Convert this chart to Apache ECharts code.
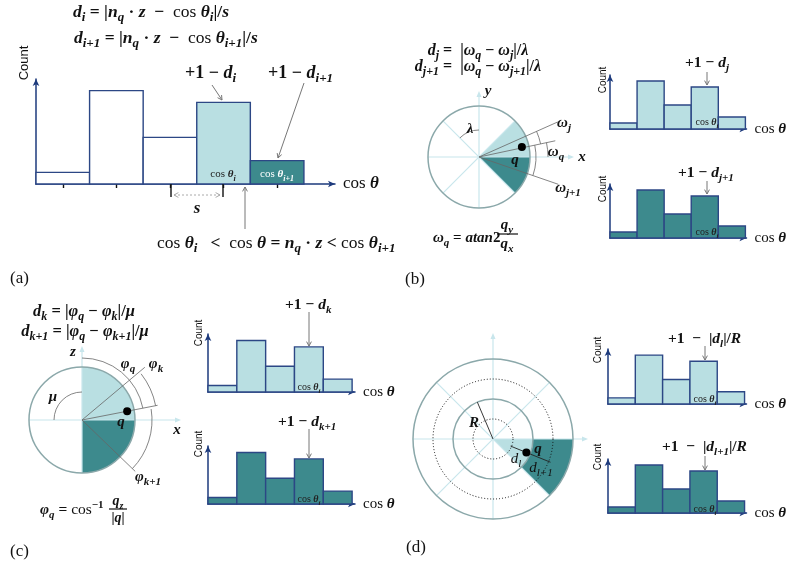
<!DOCTYPE html>
<html>
<head>
<meta charset="utf-8">
<script src="https://cdn.jsdelivr.net/npm/echarts@6/dist/echarts.min.js"></script>
<style>html,body{margin:0;padding:0;background:#fff}#main{width:787px;height:572px}</style>
</head>
<body>
<div id="main"></div>
<script>
// histogram data (same 5 bins everywhere)
var bins = [0, 1, 2, 3, 4];
var counts = [1, 8, 4, 7, 2];
var countMax = 9;
var binTicks = [0.5, 1.5, 2.5, 3.5, 4.5];
var fillsA = ['white', 'white', 'white', 'light', 'dark'];
var fillsLight = ['light', 'light', 'light', 'light', 'light'];
var fillsDark = ['dark', 'dark', 'dark', 'dark', 'dark'];

var COLORS = { white: '#ffffff', light: '#b9dfe2', dark: '#3d8a8d' };
var AXIS = '#1d3a7c';
var EDGE = '#2c4785';
var RIM = '#8ba8aa';
var PALE = '#c8e6ec';
var INK = '#111';
var SERIF = 'Liberation Serif';

function richSet(fs, color) {
  var lh = fs + 6, sf = Math.round(fs * 0.74);
  return {
    v: { fontFamily: SERIF, fontSize: fs, fontStyle: 'italic', fontWeight: 'bold', fill: color, color: color, lineHeight: lh },
    b: { fontFamily: SERIF, fontSize: fs, fontWeight: 'bold', fill: color, color: color, lineHeight: lh },
    r: { fontFamily: SERIF, fontSize: fs, fill: color, color: color, lineHeight: lh },
    n: { fontFamily: SERIF, fontSize: fs, fontStyle: 'italic', fill: color, color: color, lineHeight: lh },
    s: { fontFamily: SERIF, fontSize: sf, fontStyle: 'italic', fontWeight: 'bold', fill: color, color: color, verticalAlign: 'bottom', lineHeight: sf + 2 },
    ns: { fontFamily: SERIF, fontSize: sf, fontStyle: 'italic', fill: color, color: color, verticalAlign: 'bottom', lineHeight: sf + 2 },
    p: { fontFamily: SERIF, fontSize: sf, fontWeight: 'bold', fill: color, color: color, verticalAlign: 'top', lineHeight: sf + 2 }
  };
}

function txt(x, y, text, fs, align, color) {
  return { type: 'text', x: x, y: y, z: 100, silent: true,
    style: { text: text, rich: richSet(fs, color || INK), align: align || 'left', verticalAlign: 'middle' } };
}
function plain(x, y, text, fs, family, rot) {
  return { type: 'text', x: x, y: y, z: 100, silent: true, rotation: rot || 0,
    style: { text: text, fontFamily: family, fontSize: fs, fill: INK, align: rot ? 'center' : 'left', verticalAlign: 'middle' } };
}
function line(x1, y1, x2, y2, color, w, dash) {
  return { type: 'line', z: 100, silent: true, shape: { x1: x1, y1: y1, x2: x2, y2: y2 },
    style: { stroke: color, lineWidth: w || 1, lineDash: dash || null } };
}
function chevron(x, y, ang, color) {
  var L = 5, h = 0.5;
  return { type: 'polyline', z: 100, silent: true,
    shape: { points: [[x - L * Math.cos(ang - h), y - L * Math.sin(ang - h)], [x, y], [x - L * Math.cos(ang + h), y - L * Math.sin(ang + h)]] },
    style: { stroke: color, fill: null, lineWidth: 1 } };
}
function arrow(x1, y1, x2, y2, color, dash, both) {
  var a = Math.atan2(y2 - y1, x2 - x1);
  var out = [line(x1, y1, x2, y2, color, 1, dash), chevron(x2, y2, a, color)];
  if (both) out.push(chevron(x1, y1, a + Math.PI, color));
  return out;
}
function head(x, y, ang, color) {
  var L = 6, W = 2.5, c = Math.cos(ang), s = Math.sin(ang);
  return { type: 'polygon', z: 100, silent: true,
    shape: { points: [[x, y], [x - L * c + W * s, y - L * s - W * c], [x - L * c - W * s, y - L * s + W * c]] },
    style: { fill: color } };
}
function pt(c, r, deg) {
  var a = deg * Math.PI / 180;
  return [c[0] + r * Math.cos(a), c[1] - r * Math.sin(a)];
}
function ray(c, r0, r1, deg, color, w, dash) {
  var p = pt(c, r0, deg), q = pt(c, r1, deg);
  return line(p[0], p[1], q[0], q[1], color, w, dash);
}
function sector(c, r0, r, a0, a1, fill) {
  return { type: 'sector', z: 99, silent: true,
    shape: { cx: c[0], cy: c[1], r0: r0, r: r, startAngle: -a1 * Math.PI / 180, endAngle: -a0 * Math.PI / 180, clockwise: true },
    style: { fill: fill } };
}
function arc(c, r, a0, a1, color, w) {
  return { type: 'arc', z: 100, silent: true,
    shape: { cx: c[0], cy: c[1], r: r, startAngle: -a1 * Math.PI / 180, endAngle: -a0 * Math.PI / 180, clockwise: true },
    style: { stroke: color, lineWidth: w || 1, fill: null } };
}
function ring(c, r, color, w, dash) {
  return { type: 'circle', z: 100, silent: true, shape: { cx: c[0], cy: c[1], r: r },
    style: { stroke: color, lineWidth: w || 1, fill: null, lineDash: dash || null } };
}
function dot(p) {
  return { type: 'circle', z: 101, silent: true, shape: { cx: p[0], cy: p[1], r: 4 }, style: { fill: '#000' } };
}
function paleAxes(c, r, up, right, diag, downTo) {
  var out = [];
  out.push(line(c[0] - r, c[1], right - 4, c[1], PALE, 1.2));
  out.push(head(right, c[1], 0, PALE));
  out.push(line(c[0], downTo, c[0], up + 4, PALE, 1.2));
  out.push(head(c[0], up, -Math.PI / 2, PALE));
  if (diag) {
    [45, 135].forEach(function (d) {
      var p = pt(c, r, d), q = pt(c, r, d + 180);
      out.push(line(p[0], p[1], q[0], q[1], PALE, 1.2));
    });
  }
  return out;
}

// histogram layouts
var hists = [
  { left: 36, top: 79, width: 299, height: 105, xmax: 5.58, fills: fillsA, ticks: true, fs: 17 },
  { left: 610, top: 75, width: 140, height: 54, xmax: 5.04, fills: fillsLight, fs: 15 },
  { left: 610, top: 184, width: 140, height: 54, xmax: 5.04, fills: fillsDark, fs: 15 },
  { left: 208, top: 334, width: 147, height: 58, xmax: 5.1, fills: fillsLight, fs: 15 },
  { left: 208, top: 446, width: 147, height: 58, xmax: 5.1, fills: fillsDark, fs: 15 },
  { left: 608, top: 349, width: 142, height: 55, xmax: 5.07, fills: fillsLight, fs: 15 },
  { left: 608, top: 459, width: 142, height: 54, xmax: 5.07, fills: fillsDark, fs: 15 }
];

function renderBin(params, api) {
  var x0 = api.value(0);
  var p0 = api.coord([x0, 0]);
  var p1 = api.coord([x0 + 1, api.value(1)]);
  return { type: 'rect',
    shape: { x: p0[0], y: p1[1], width: p1[0] - p0[0], height: p0[1] - p1[1] },
    style: { fill: api.visual('color'), stroke: EDGE, lineWidth: 1.4 } };
}

var grids = [], xAxes = [], yAxes = [], series = [];
hists.forEach(function (h, k) {
  grids.push({ left: h.left, top: h.top, width: h.width, height: h.height });
  xAxes.push({
    type: 'value', gridIndex: k, min: 0, max: h.xmax,
    axisLine: { show: true, onZero: false, symbol: ['none', 'arrow'], symbolSize: [5, 7], lineStyle: { color: AXIS, width: 1.5 } },
    axisTick: { show: !!h.ticks, customValues: binTicks, inside: false, length: 4, lineStyle: { color: INK, width: 1.4 } },
    axisLabel: { show: false }, splitLine: { show: false },
    name: '{r|cos }{v|θ}', nameLocation: 'end', nameGap: 8,
    nameTextStyle: { rich: richSet(h.fs, INK), verticalAlign: 'middle' }
  });
  yAxes.push({
    type: 'value', gridIndex: k, min: 0, max: countMax,
    axisLine: { show: true, onZero: false, symbol: ['none', 'arrow'], symbolSize: [5, 7], lineStyle: { color: AXIS, width: 1.5 } },
    axisTick: { show: false }, axisLabel: { show: false }, splitLine: { show: false }
  });
  series.push({
    type: 'custom', xAxisIndex: k, yAxisIndex: k, renderItem: renderBin, z: 5,
    data: bins.map(function (b, i) {
      return { value: [b, counts[i]], itemStyle: { color: COLORS[h.fills[i]] } };
    })
  });
});

var G = [];
function add(a) { G = G.concat(a); }

// ---- panel (a)
add([
  plain(24, 63, 'Count', 13, 'Liberation Sans', Math.PI / 2),
  txt(73, 12, '{v|d}{s|i}{b| = |}{v|n}{s|q}{b| · }{v|z}{b|  −  }{r|cos }{v|θ}{s|i}{b||/}{v|s}', 17.5),
  txt(74, 38, '{v|d}{s|i+1}{b| = |}{v|n}{s|q}{b| · }{v|z}{b|  −  }{r|cos }{v|θ}{s|i+1}{b||/}{v|s}', 17.5),
  txt(185, 73, '{b|+1 − }{v|d}{s|i}', 18),
  txt(268, 73, '{b|+1 − }{v|d}{s|i+1}', 18),
  txt(223, 174, '{r|cos }{v|θ}{s|i}', 11, 'center', '#222'),
  txt(277, 174, '{r|cos }{v|θ}{s|i+1}', 11, 'center', '#fff'),
  line(171, 184, 171, 197, INK, 1.4),
  line(223, 184, 223, 197, INK, 1.4),
  txt(197, 209, '{v|s}', 17, 'center'),
  txt(157, 243, '{r|cos }{v|θ}{s|i}{b|   <  }{r|cos }{v|θ}{b| = }{v|n}{s|q}{b| · }{v|z}{b| < }{r|cos }{v|θ}{s|i+1}', 17.5),
  plain(10, 279, '(a)', 17, SERIF)
]);
add(arrow(212, 85, 222, 100, '#777'));
add(arrow(304, 83, 278, 158, '#777'));
add(arrow(174, 195, 220, 195, '#aaa', [2, 2], true));
add(arrow(245, 229, 245, 187, '#777'));

// ---- panel (b)
var B = [479, 157], rb = 51;
add(sector(B, 0, rb, 0, 45, COLORS.light));
add(sector(B, 0, rb, -45, 0, COLORS.dark));
add(paleAxes(B, rb, 91, 574, true, B[1] + rb));
add(ring(B, rb, RIM, 1.5));
add([
  ray(B, 0, 86, 24, '#666', 0.8),
  ray(B, 0, 78, 12, '#666', 0.8),
  ray(B, 0, 84, -19, '#666', 0.8),
  arc(B, 57, -19, 12, '#666', 0.8),
  arc(B, 63, 12, 24, '#666', 0.8),
  arc(B, 69, 0, 12, '#666', 0.8),
  arc(B, 27, 90, 135, '#666', 0.8),
  dot(pt(B, 44, 13)),
  txt(478, 51, '{v|d}{s|j}{b| =  |}{v|ω}{s|q}{b| − }{v|ω}{s|j}{b||/}{v|λ}', 16, 'center'),
  txt(478, 67, '{v|d}{s|j+1}{b| =  |}{v|ω}{s|q}{b| − }{v|ω}{s|j+1}{b||/}{v|λ}', 16, 'center'),
  txt(488, 91, '{v|y}', 15, 'center'),
  txt(582, 157, '{v|x}', 15, 'center'),
  txt(564, 123, '{v|ω}{s|j}', 15, 'center'),
  txt(556, 152, '{v|ω}{s|q}', 15, 'center'),
  txt(568, 188, '{v|ω}{s|j+1}', 15, 'center'),
  txt(515, 160, '{v|q}', 15, 'center'),
  txt(470, 129, '{v|λ}', 15, 'center'),
  txt(433, 238, '{v|ω}{s|q}{b| = }{v|atan}{b|2}', 15),
  txt(507, 225, '{v|q}{s|y}', 15, 'center'),
  line(497, 234, 518, 234, INK, 1.2),
  txt(507, 244, '{v|q}{s|x}', 15, 'center'),
  plain(405, 280, '(b)', 17, SERIF),
  plain(603, 80, 'Count', 10, 'Liberation Sans', Math.PI / 2),
  plain(603, 189, 'Count', 10, 'Liberation Sans', Math.PI / 2),
  txt(685, 63, '{b|+1 − }{v|d}{s|j}', 15.5),
  txt(678, 173, '{b|+1 − }{v|d}{s|j+1}', 15.5),
  txt(707, 122, '{r|cos }{v|θ}{s|i}', 10, 'center', '#222'),
  txt(707, 232, '{r|cos }{v|θ}{s|i}', 10, 'center', '#222')
]);
add(arrow(707, 72, 707, 85, '#777'));
add(arrow(707, 181, 707, 194, '#777'));

// ---- panel (c)
var C = [82, 420], rc = 53;
add(sector(C, 0, rc, 0, 90, COLORS.light));
add(sector(C, 0, rc, -90, 0, COLORS.dark));
add(paleAxes(C, rc, 346, 181, false, C[1] + rc));
add(ring(C, rc, RIM, 1.5));
add([
  ray(C, 0, 82, 40, '#666', 0.8),
  ray(C, 0, 77, 11, '#666', 0.8),
  ray(C, 0, 74, -44, '#666', 0.8),
  arc(C, 62, 11, 90, '#666', 0.8),
  arc(C, 75, 11, 38, '#666', 0.8),
  arc(C, 70, -44, 9, '#666', 0.8),
  arc(C, 28, 90, 180, '#666', 0.8),
  dot(pt(C, 46, 11)),
  txt(84, 312, '{v|d}{s|k}{b| = |}{v|φ}{s|q}{b| − }{v|φ}{s|k}{b||/}{v|μ}', 16.5, 'center'),
  txt(85, 332, '{v|d}{s|k+1}{b| = |}{v|φ}{s|q}{b| − }{v|φ}{s|k+1}{b||/}{v|μ}', 16.5, 'center'),
  txt(73, 352, '{v|z}', 15, 'center'),
  txt(128, 364, '{v|φ}{s|q}', 15, 'center'),
  txt(156, 364, '{v|φ}{s|k}', 15, 'center'),
  txt(53, 397, '{v|μ}', 15, 'center'),
  txt(121, 422, '{v|q}', 15, 'center'),
  txt(177, 430, '{v|x}', 15, 'center'),
  txt(148, 477, '{v|φ}{s|k+1}', 15, 'center'),
  txt(40, 510, '{v|φ}{s|q}{b| = }{r|cos}{p|−1}', 15.5),
  txt(118, 501, '{v|q}{s|z}', 14, 'center'),
  line(109, 509, 127, 509, INK, 1.2),
  txt(118, 518, '{b||}{v|q}{b||}', 14, 'center'),
  plain(10, 552, '(c)', 17, SERIF),
  plain(199, 333, 'Count', 10, 'Liberation Sans', Math.PI / 2),
  plain(199, 444, 'Count', 10, 'Liberation Sans', Math.PI / 2),
  txt(285, 305, '{b|+1 − }{v|d}{s|k}', 15.5),
  txt(278, 422, '{b|+1 − }{v|d}{s|k+1}', 15.5),
  txt(309, 387, '{r|cos }{v|θ}{s|i}', 10, 'center', '#222'),
  txt(309, 499, '{r|cos }{v|θ}{s|i}', 10, 'center', '#222')
]);
add(arrow(309, 312, 309, 346, '#777'));
add(arrow(309, 429, 309, 458, '#777'));

// ---- panel (d)
var D = [493, 439];
add(sector(D, 0, 40, -45, 0, COLORS.light));
add(sector(D, 40, 80, -45, 0, COLORS.dark));
add(paleAxes(D, 80, 333, 588, true, D[1] + 80));
add([
  ring(D, 80, RIM, 1.5),
  ring(D, 40, RIM, 1.5),
  ring(D, 60, '#111', 1, [1, 2]),
  ring(D, 20, '#111', 1, [1, 2]),
  ray(D, 0, 40, 113, '#222', 0.9),
  ray(D, 19, 62, -22, '#222', 0.9),
  dot(pt(D, 36, -22)),
  txt(474, 423, '{v|R}', 15, 'center'),
  txt(538, 449, '{v|q}', 15, 'center'),
  txt(516, 459, '{n|d}{ns|l}', 15, 'center'),
  txt(541, 468, '{n|d}{ns|l+1}', 15, 'center'),
  plain(406, 548, '(d)', 17, SERIF),
  plain(598, 350, 'Count', 10, 'Liberation Sans', Math.PI / 2),
  plain(598, 457, 'Count', 10, 'Liberation Sans', Math.PI / 2),
  txt(668, 339, '{b|+1  −  |}{v|d}{s|l}{b||/}{v|R}', 15.5),
  txt(662, 447, '{b|+1  −  |}{v|d}{s|l+1}{b||/}{v|R}', 15.5),
  txt(705, 399, '{r|cos }{v|θ}{s|i}', 10, 'center', '#222'),
  txt(705, 509, '{r|cos }{v|θ}{s|i}', 10, 'center', '#222')
]);
add(arrow(705, 346, 705, 360, '#777'));
add(arrow(705, 456, 705, 470, '#777'));

var chart = echarts.init(document.getElementById('main'));
chart.setOption({
  animation: false,
  backgroundColor: '#fff',
  grid: grids,
  xAxis: xAxes,
  yAxis: yAxes,
  series: series,
  graphic: { elements: G }
});
</script>
</body>
</html>
